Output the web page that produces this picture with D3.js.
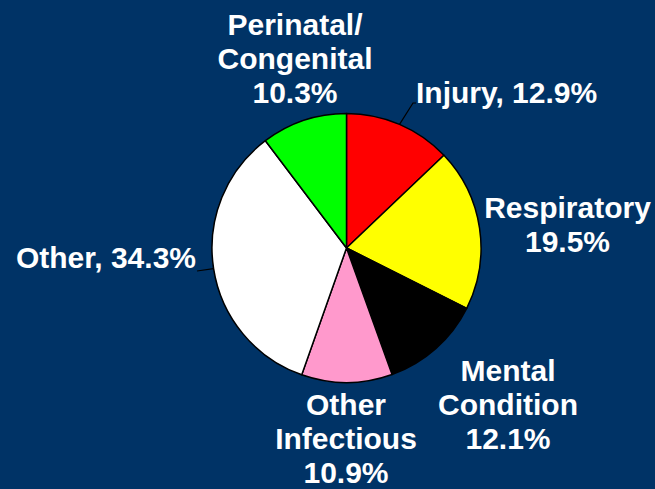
<!DOCTYPE html>
<html><head><meta charset="utf-8">
<script src="https://cdn.jsdelivr.net/npm/d3@7"></script>
<style>
html,body{margin:0;padding:0;background:#003366;}
svg{display:block;}
</style></head>
<body>
<svg id="chart" width="655" height="489"></svg>
<script>
const categories = ["Injury", "Respiratory", "Mental Condition", "Other Infectious", "Other", "Perinatal/Congenital"];
const values = [12.9, 19.5, 12.1, 10.9, 34.3, 10.3];
const colors = ["#ff0000", "#ffff00", "#000000", "#ff99cc", "#ffffff", "#00ff00"];
const labelLines = [
  ["Injury, 12.9%"],
  ["Respiratory", "19.5%"],
  ["Mental", "Condition", "12.1%"],
  ["Other", "Infectious", "10.9%"],
  ["Other, 34.3%"],
  ["Perinatal/", "Congenital", "10.3%"]
];

const W = 655, H = 489;
const cx = 346.5, cy = 248, R = 134.5;
const svg = d3.select("#chart");
svg.append("rect").attr("width", W).attr("height", H).attr("fill", "#003366");

const data = categories.map((c, i) => ({cat: c, value: values[i], color: colors[i], lines: labelLines[i]}));
const pie = d3.pie().value(d => d.value).sort(null);
const arcs = pie(data);
const arc = d3.arc().innerRadius(0).outerRadius(R);
const edge = d3.arc().innerRadius(R).outerRadius(R);

const g = svg.append("g").attr("transform", `translate(${cx},${cy})`);
g.selectAll("path.slice").data(arcs).join("path")
  .attr("class", "slice")
  .attr("d", arc)
  .attr("fill", d => d.data.color)
  .attr("stroke", "#000").attr("stroke-width", 1.5).attr("stroke-linejoin", "round");

// label layout (positions in page coords)
const layout = {
  "Injury": {x: 416, y: 103, anchor: "start", leader: [[413, 103], [416, 103]]},
  "Respiratory": {x: 567.5, y: 218, anchor: "middle"},
  "Mental Condition": {x: 508, y: 381, anchor: "middle"},
  "Other Infectious": {x: 346, y: 415, anchor: "middle"},
  "Other": {x: 196, y: 268, anchor: "end", leader: [[197, 271]]},
  "Perinatal/Congenital": {x: 295, y: 35, anchor: "middle"}
};
const lineH = 34;

arcs.forEach(a => {
  const L = layout[a.data.cat];
  if (L.leader) {
    const p = edge.centroid(a);
    const pts = [[cx + p[0], cy + p[1]], ...L.leader];
    svg.append("path")
      .attr("d", d3.line()(pts))
      .attr("fill", "none").attr("stroke", "#000").attr("stroke-width", 1.2);
  }
  const t = svg.append("text")
    .attr("x", L.x).attr("y", L.y)
    .attr("text-anchor", L.anchor)
    .attr("fill", "#ffffff")
    .attr("font-family", "'Liberation Sans', Arial, sans-serif")
    .attr("font-weight", "bold")
    .attr("font-size", 30);
  a.data.lines.forEach((ln, i) => {
    t.append("tspan").attr("x", L.x).attr("y", L.y + i * lineH).text(ln);
  });
});
</script>
</body></html>
